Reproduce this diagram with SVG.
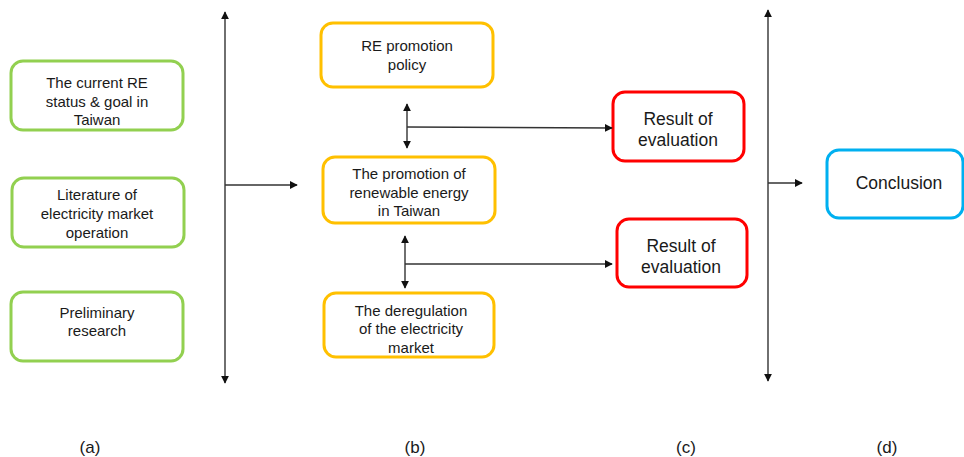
<svg xmlns="http://www.w3.org/2000/svg" width="964" height="457" viewBox="0 0 964 457">
  <style>
    .box { fill: #ffffff; stroke-width: 3; }
    .green { stroke: #92D050; }
    .orange { stroke: #FFC000; }
    .red { stroke: #FF0000; }
    .blue { stroke: #00B0F0; }
    text { font-family: "Liberation Sans", Arial, sans-serif; fill: #1a1a1a; text-anchor: middle; dominant-baseline: central; }
    .t15 { font-size: 15px; }
    .t17 { font-size: 17.5px; }
    .lbl { font-size: 17px; }
    .line { stroke: #333333; stroke-width: 1.4; fill: none; }
  </style>
  <defs>
    <marker id="arrow" viewBox="0 0 10 10" refX="9" refY="5" markerWidth="8" markerHeight="8" markerUnits="userSpaceOnUse" orient="auto-start-reverse">
      <path d="M0,0 L10,5 L0,10 z" fill="#111111"/>
    </marker>
  </defs>

  <rect width="964" height="457" fill="#ffffff"/>

  <!-- column (a): inputs -->
  <g id="node-re-status">
    <rect class="box green" x="11" y="61" width="172" height="69" rx="12"/>
    <text class="t15" x="97" y="82">The current RE</text>
    <text class="t15" x="97" y="101">status &amp; goal in</text>
    <text class="t15" x="97" y="119">Taiwan</text>
  </g>
  <g id="node-literature">
    <rect class="box green" x="12" y="178" width="172" height="69" rx="12"/>
    <text class="t15" x="97" y="194">Literature of</text>
    <text class="t15" x="97" y="213">electricity market</text>
    <text class="t15" x="97" y="232">operation</text>
  </g>
  <g id="node-preliminary">
    <rect class="box green" x="11" y="292" width="172" height="69" rx="12"/>
    <text class="t15" x="97" y="312">Preliminary</text>
    <text class="t15" x="97" y="330">research</text>
  </g>

  <!-- column (b): analysis -->
  <g id="node-policy">
    <rect class="box orange" x="321" y="23" width="172" height="64" rx="12"/>
    <text class="t15" x="407" y="45">RE promotion</text>
    <text class="t15" x="407" y="64">policy</text>
  </g>
  <g id="node-promotion">
    <rect class="box orange" x="323" y="157" width="172" height="66" rx="12"/>
    <text class="t15" x="409" y="173">The promotion of</text>
    <text class="t15" x="409" y="192">renewable energy</text>
    <text class="t15" x="409" y="210">in Taiwan</text>
  </g>
  <g id="node-deregulation">
    <rect class="box orange" x="324" y="293" width="170" height="64" rx="12"/>
    <text class="t15" x="411" y="310">The deregulation</text>
    <text class="t15" x="411" y="328">of the electricity</text>
    <text class="t15" x="411" y="347">market</text>
  </g>

  <!-- column (c): results -->
  <g id="node-result-1">
    <rect class="box red" x="613" y="92" width="131" height="69" rx="12"/>
    <text class="t17" x="678" y="119">Result of</text>
    <text class="t17" x="678" y="140">evaluation</text>
  </g>
  <g id="node-result-2">
    <rect class="box red" x="617" y="219" width="130" height="68" rx="12"/>
    <text class="t17" x="681" y="246">Result of</text>
    <text class="t17" x="681" y="267">evaluation</text>
  </g>

  <!-- column (d): conclusion -->
  <g id="node-conclusion">
    <rect class="box blue" x="827" y="150" width="136" height="68" rx="12"/>
    <text class="t17" x="899" y="183">Conclusion</text>
  </g>

  <!-- connectors -->
  <g id="connectors">
    <line class="line" x1="225" y1="12" x2="225" y2="383" marker-start="url(#arrow)" marker-end="url(#arrow)"/>
    <line class="line" x1="225" y1="185" x2="297" y2="185" marker-end="url(#arrow)"/>

    <line class="line" x1="407" y1="104" x2="407" y2="148" marker-start="url(#arrow)" marker-end="url(#arrow)"/>
    <line class="line" x1="407" y1="127" x2="612" y2="128" marker-end="url(#arrow)"/>

    <line class="line" x1="405" y1="236" x2="405" y2="288" marker-start="url(#arrow)" marker-end="url(#arrow)"/>
    <line class="line" x1="405" y1="264" x2="612" y2="264" marker-end="url(#arrow)"/>

    <line class="line" x1="768" y1="10" x2="768" y2="381" marker-start="url(#arrow)" marker-end="url(#arrow)"/>
    <line class="line" x1="768" y1="183" x2="802" y2="183" marker-end="url(#arrow)"/>
  </g>

  <!-- column labels -->
  <g id="labels">
    <text class="lbl" x="90" y="447">(a)</text>
    <text class="lbl" x="415" y="447">(b)</text>
    <text class="lbl" x="686" y="447">(c)</text>
    <text class="lbl" x="887" y="447">(d)</text>
  </g>
</svg>
